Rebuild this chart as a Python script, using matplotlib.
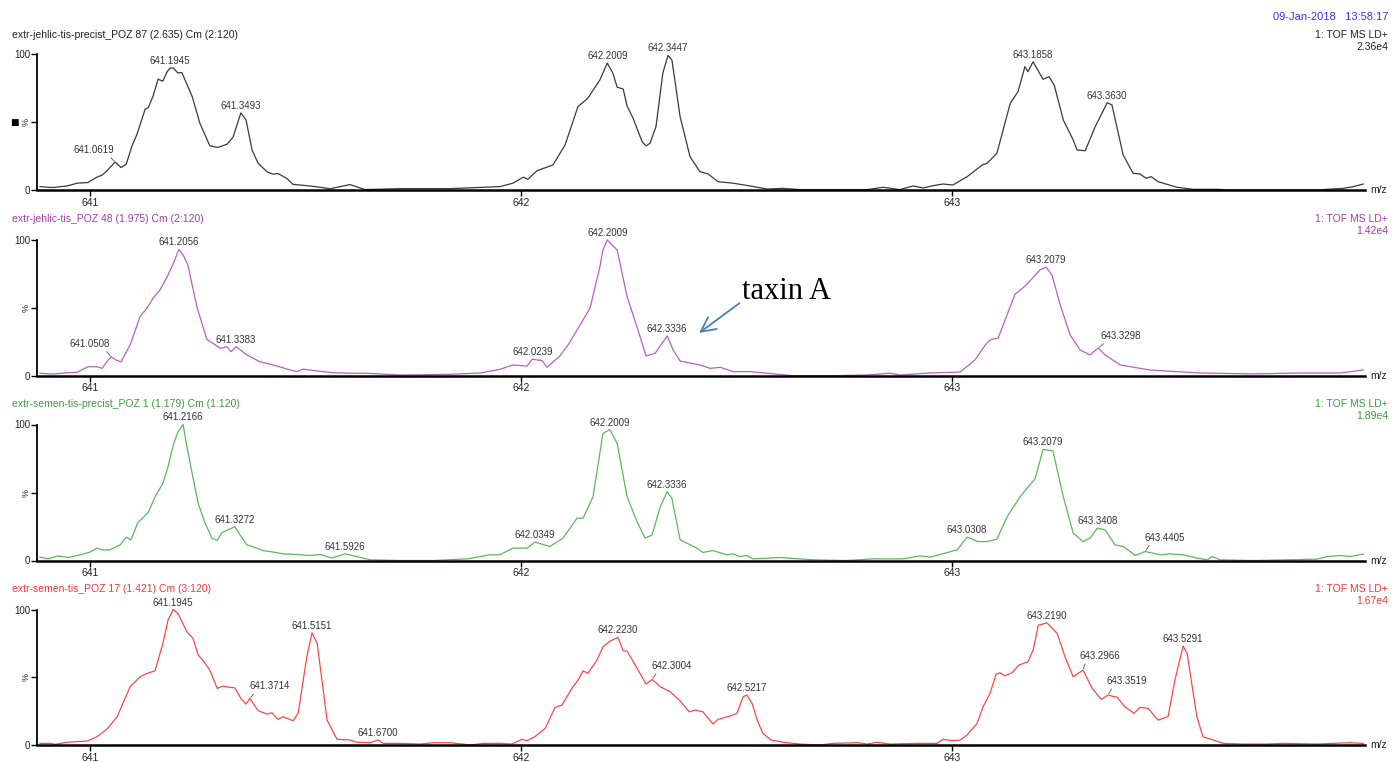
import numpy as np
import matplotlib
matplotlib.use("Agg")
import matplotlib.pyplot as plt

plt.rcParams['font.family'] = ['Liberation Sans', 'DejaVu Sans']

# ---------------- data (m/z, relative intensity %) ----------------
mz_1 = [640.884, 640.914, 640.947, 640.970, 640.995, 641.016, 641.028, 641.039, 641.058, 641.072,
        641.084, 641.097, 641.109, 641.128, 641.135, 641.146, 641.158, 641.169, 641.179, 641.186,
        641.193, 641.204, 641.213, 641.237, 641.255, 641.278, 641.297, 641.318, 641.332, 641.350,
        641.362, 641.376, 641.390, 641.411, 641.425, 641.436, 641.457, 641.471, 641.503, 641.534,
        641.557, 641.603, 641.638, 641.719, 641.835, 641.951, 641.981, 642.005, 642.016, 642.037,
        642.074, 642.102, 642.132, 642.155, 642.183, 642.200, 642.213, 642.223, 642.237, 642.246,
        642.260, 642.281, 642.290, 642.299, 642.313, 642.329, 642.341, 642.350, 642.369, 642.392,
        642.415, 642.434, 642.457, 642.492, 642.531, 642.571, 642.608, 642.647, 642.724, 642.803,
        642.840, 642.879, 642.910, 642.933, 642.956, 642.979, 643.002, 643.035, 643.070, 643.081,
        643.104, 643.135, 643.153, 643.169, 643.176, 643.188, 643.211, 643.225, 643.237, 643.258,
        643.281, 643.290, 643.309, 643.332, 643.360, 643.371, 643.397, 643.420, 643.436, 643.450,
        643.462, 643.478, 643.522, 643.559, 643.615, 643.652, 643.768, 643.847, 643.907, 643.930,
        643.954]
int_1 = [2.5, 1.8, 3.0, 5.0, 5.5, 9.4, 11.0, 14.0, 20.6, 16.5,
         19.0, 32.0, 41.0, 59.5, 60.5, 68.8, 81.5, 80.0, 87.0, 89.7,
         89.7, 86.0, 86.4, 68.8, 49.0, 32.5, 31.3, 33.7, 39.0, 56.7,
         51.4, 29.4, 19.6, 13.3, 11.6, 12.1, 8.4, 4.1, 3.2, 2.0,
         0.9, 4.0, 0.3, 1.0, 1.0, 2.5, 5.0, 9.4, 7.9, 14.2,
         18.4, 33.0, 61.3, 67.5, 81.0, 93.3, 86.0, 75.6, 74.2, 61.8,
         52.7, 35.5, 32.4, 34.3, 46.5, 86.0, 99.0, 95.6, 54.0, 24.5,
         13.5, 11.8, 6.1, 5.0, 3.0, 0.7, 1.2, 0.3, 0.3, 0.3,
         2.0, 0.3, 3.0, 1.5, 3.2, 4.4, 3.7, 9.8, 18.4, 19.6,
         27.0, 63.8, 72.3, 90.7, 87.0, 94.3, 81.4, 83.3, 77.2, 51.5,
         36.8, 29.4, 28.9, 46.5, 64.2, 62.5, 25.7, 12.3, 11.8, 8.6,
         9.8, 6.1, 2.0, 0.5, 0.5, 0.0, 0.0, 0.0, 1.2, 2.4,
         4.4]

mz_2 = [640.884, 640.914, 640.947, 640.970, 640.995, 641.016, 641.028, 641.039, 641.049, 641.060,
        641.072, 641.093, 641.116, 641.132, 641.146, 641.162, 641.181, 641.195, 641.206, 641.216,
        641.227, 641.248, 641.271, 641.285, 641.302, 641.318, 641.327, 641.339, 641.364, 641.394,
        641.425, 641.457, 641.480, 641.494, 641.527, 641.564, 641.603, 641.643, 641.719, 641.835,
        641.905, 641.951, 641.981, 642.014, 642.026, 642.049, 642.060, 642.090, 642.109, 642.160,
        642.183, 642.190, 642.200, 642.223, 642.246, 642.269, 642.290, 642.311, 642.339, 642.353,
        642.369, 642.415, 642.439, 642.462, 642.492, 642.531, 642.571, 642.631, 642.724, 642.803,
        642.856, 642.879, 642.949, 643.019, 643.053, 643.077, 643.088, 643.107, 643.123, 643.146,
        643.169, 643.181, 643.204, 643.218, 643.232, 643.251, 643.274, 643.297, 643.320, 643.339,
        643.355, 643.390, 643.459, 643.575, 643.698, 643.807, 643.900, 643.954]
int_2 = [1.8, 1.2, 2.2, 2.5, 6.6, 6.6, 5.4, 10.3, 14.0, 11.6,
         10.3, 22.6, 43.5, 49.7, 57.0, 63.0, 74.2, 84.0, 93.0, 89.0,
         81.6, 50.8, 26.8, 23.9, 20.2, 21.4, 17.7, 21.4, 15.3, 10.3,
         7.9, 4.9, 3.0, 4.9, 3.5, 2.2, 1.8, 1.8, 0.5, 1.0,
         2.0, 4.7, 7.9, 7.1, 12.1, 11.1, 6.2, 14.5, 22.6, 49.7,
         80.3, 92.6, 100.0, 92.6, 58.2, 36.1, 14.5, 16.5, 29.3, 18.9,
         10.8, 7.9, 5.4, 6.2, 3.0, 3.0, 1.8, 0.0, 0.0, 0.5,
         1.8, 0.5, 2.0, 2.7, 11.6, 22.6, 26.3, 27.8, 41.0, 60.0,
         66.0, 70.0, 78.0, 80.0, 74.0, 52.0, 30.0, 19.0, 15.3, 20.4,
         15.3, 7.9, 4.2, 2.0, 1.3, 2.0, 2.0, 4.2]

mz_3 = [640.884, 640.903, 640.926, 640.949, 640.977, 641.000, 641.016, 641.028, 641.046, 641.070,
        641.084, 641.095, 641.111, 641.135, 641.151, 641.169, 641.181, 641.193, 641.204, 641.216,
        641.222, 641.237, 641.251, 641.267, 641.283, 641.295, 641.306, 641.320, 641.336, 641.348,
        641.364, 641.387, 641.401, 641.418, 641.448, 641.480, 641.510, 641.534, 641.561, 641.592,
        641.619, 641.650, 641.719, 641.796, 641.875, 641.928, 641.951, 641.981, 642.014, 642.032,
        642.067, 642.097, 642.130, 642.144, 642.167, 642.190, 642.206, 642.223, 642.246, 642.269,
        642.288, 642.304, 642.323, 642.339, 642.350, 642.369, 642.408, 642.422, 642.445, 642.478,
        642.492, 642.508, 642.524, 642.538, 642.601, 642.677, 642.756, 642.817, 642.886, 642.926,
        642.949, 643.012, 643.035, 643.060, 643.081, 643.104, 643.128, 643.158, 643.193, 643.211,
        643.234, 643.258, 643.281, 643.304, 643.320, 643.337, 643.355, 643.378, 643.397, 643.425,
        643.448, 643.483, 643.506, 643.536, 643.568, 643.592, 643.603, 643.622, 643.698, 643.777,
        643.847, 643.870, 643.900, 643.923, 643.954]
int_3 = [2.5, 1.2, 3.4, 2.2, 4.2, 6.2, 9.1, 7.8, 7.8, 11.5,
         17.2, 15.2, 27.9, 35.2, 46.9, 56.7, 68.9, 84.8, 94.6, 100.0,
         88.5, 64.0, 42.0, 27.4, 16.4, 14.7, 20.5, 22.5, 24.9, 18.8,
         11.5, 9.1, 7.3, 6.6, 4.9, 4.4, 3.7, 4.4, 1.8, 4.9,
         2.9, 0.5, 0.0, 0.0, 1.2, 4.2, 4.2, 9.1, 9.1, 13.5,
         10.3, 16.4, 31.1, 31.1, 46.9, 93.4, 96.3, 86.1, 46.9, 28.6,
         16.4, 18.8, 39.6, 50.6, 45.7, 15.2, 9.1, 5.9, 7.3, 4.2,
         4.9, 2.9, 3.7, 1.2, 2.2, 0.5, 0.0, 1.2, 1.2, 3.4,
         2.5, 7.8, 17.2, 13.9, 13.9, 15.7, 32.3, 46.9, 60.4, 81.7,
         80.6, 46.9, 20.1, 13.9, 16.4, 23.8, 22.5, 11.5, 10.3, 3.7,
         6.6, 4.2, 4.9, 4.2, 1.8, 0.5, 2.9, 0.5, 0.0, 0.5,
         1.0, 2.9, 3.7, 2.9, 4.7]

mz_4 = [640.884, 640.907, 640.919, 640.947, 640.970, 640.993, 641.016, 641.039, 641.063, 641.093,
        641.116, 641.132, 641.151, 641.169, 641.181, 641.193, 641.204, 641.225, 641.239, 641.251,
        641.262, 641.278, 641.295, 641.309, 641.325, 641.336, 641.350, 641.362, 641.371, 641.390,
        641.411, 641.422, 641.436, 641.448, 641.471, 641.483, 641.503, 641.515, 641.527, 641.550,
        641.573, 641.603, 641.619, 641.650, 641.668, 641.680, 641.719, 641.766, 641.796, 641.835,
        641.882, 641.912, 641.951, 641.979, 642.002, 642.014, 642.032, 642.056, 642.079, 642.095,
        642.118, 642.132, 642.144, 642.155, 642.176, 642.190, 642.206, 642.225, 642.237, 642.246,
        642.265, 642.290, 642.304, 642.323, 642.346, 642.369, 642.390, 642.404, 642.422, 642.445,
        642.457, 642.485, 642.501, 642.515, 642.524, 642.536, 642.548, 642.561, 642.580, 642.608,
        642.647, 642.694, 642.724, 642.782, 642.803, 642.826, 642.856, 642.919, 642.965, 642.979,
        643.002, 643.019, 643.035, 643.058, 643.072, 643.088, 643.102, 643.111, 643.123, 643.139,
        643.155, 643.176, 643.188, 643.200, 643.220, 643.244, 643.262, 643.281, 643.304, 643.325,
        643.346, 643.362, 643.383, 643.401, 643.422, 643.436, 643.455, 643.478, 643.501, 643.517,
        643.536, 643.545, 643.568, 643.582, 643.606, 643.629, 643.675, 643.731, 643.768, 643.847,
        643.923, 643.954]
int_4 = [1.2, 1.2, 0.5, 2.0, 2.5, 2.9, 6.1, 11.6, 20.9, 43.0,
         50.3, 52.8, 54.8, 75.0, 92.1, 100.0, 97.0, 83.5, 78.6, 66.3,
         62.6, 55.3, 41.8, 43.5, 42.5, 42.2, 34.4, 30.2, 34.4, 25.3,
         22.8, 23.8, 18.9, 20.9, 17.9, 23.4, 65.1, 82.8, 75.0, 18.4,
         4.2, 3.7, 2.0, 1.7, 3.7, 1.2, 1.2, 0.7, 1.7, 1.7,
         0.0, 1.2, 1.2, 0.7, 4.2, 3.2, 6.1, 12.3, 27.8, 29.5,
         41.8, 47.9, 54.8, 52.8, 62.6, 72.4, 76.6, 79.4, 69.5, 69.3,
         59.0, 45.0, 48.4, 43.0, 39.3, 32.6, 24.5, 25.8, 24.5, 15.5,
         18.9, 21.4, 23.4, 35.6, 36.8, 30.7, 18.4, 8.6, 3.7, 2.0,
         0.7, 0.0, 1.2, 1.7, 0.7, 2.0, 0.7, 1.2, 1.2, 4.2,
         3.2, 3.7, 7.4, 16.0, 28.2, 38.1, 52.1, 53.3, 51.1, 53.3,
         59.0, 61.4, 70.0, 88.4, 90.1, 82.3, 65.1, 50.3, 55.3, 41.8,
         33.7, 36.8, 35.2, 28.2, 23.4, 27.8, 27.0, 18.4, 20.9, 47.9,
         73.0, 68.0, 20.9, 6.1, 3.7, 1.2, 0.7, 0.7, 1.2, 0.7,
         1.7, 1.2]

peaks_1 = ['641.0619', '641.1945', '641.3493', '642.2009', '642.3447', '643.1858', '643.3630']
peaks_2 = ['641.0508', '641.2056', '641.3383', '642.0239', '642.2009', '642.3336', '643.2079', '643.3298']
peaks_3 = ['641.2166', '641.3272', '641.5926', '642.0349', '642.2009', '642.3336', '643.0308',
           '643.2079', '643.3408', '643.4405']
peaks_4 = ['641.1945', '641.3714', '641.5151', '641.6700', '642.2230', '642.3004', '642.5217',
           '643.2190', '643.2966', '643.3519', '643.5291']

titles = ['extr-jehlic-tis-precist_POZ 87 (2.635) Cm (2:120)',
          'extr-jehlic-tis_POZ 48 (1.975) Cm (2:120)',
          'extr-semen-tis-precist_POZ 1 (1.179) Cm (1:120)',
          'extr-semen-tis_POZ 17 (1.421) Cm (3:120)']
scales = ['2.36e4', '1.42e4', '1.89e4', '1.67e4']

# ---------------- style / layout ----------------
W, H = 1392, 762
line_colors = ['#3a3a3a', '#b860c0', '#5cb85c', '#ff4646']
text_colors = ['#222222', '#a040a8', '#3c9c3c', '#ff3333']
panel_px = [(54, 190), (240, 375.7), (424.5, 560.5), (609.5, 745)]
title_y = [35, 219, 404, 589]
# labels sitting beside the peak with a small leader line (offset in pixels)
leaders = {(0, '641.0619'): (-21, 7), (1, '641.0508'): (-21, 8), (1, '643.3298'): (23, 7),
           (2, '643.4405'): (20, 9), (3, '641.3714'): (20, 7), (3, '642.3004'): (20, 8),
           (3, '643.2966'): (17, 9), (3, '643.3519'): (19, 9)}

fig = plt.figure(figsize=(W / 100, H / 100), dpi=100)
fig.patch.set_facecolor('white')

data = [(mz_1, int_1, peaks_1), (mz_2, int_2, peaks_2), (mz_3, int_3, peaks_3), (mz_4, int_4, peaks_4)]
axes = []
for i, (mz, inten, peaks) in enumerate(data):
    top, bot = panel_px[i]
    x0, x1 = 37, 1365
    ax = fig.add_axes([x0 / W, 1 - bot / H, (x1 - x0) / W, (bot - top) / H])
    axes.append(ax)
    mz = np.array(mz)
    inten = np.array(inten)
    ax.plot(mz, inten, color=line_colors[i], lw=0.9, clip_on=False)
    ax.set_xlim(640.877, 643.958)
    ax.set_ylim(0, 100)
    for s in ['top', 'right']:
        ax.spines[s].set_visible(False)
    ax.spines['left'].set_linewidth(1.3)
    ax.spines['bottom'].set_linewidth(1.8)
    ax.set_yticks([0, 50, 100])
    ax.set_yticklabels(['0', '', '100'])
    ax.set_xticks([641, 642, 643])
    ax.set_xticklabels(['641', '642', '643'])
    ax.tick_params(axis='y', length=4, width=1, pad=1, labelsize=7, labelcolor='#222222')
    ax.tick_params(axis='x', length=4, width=1, pad=1.5, labelsize=7.5, labelcolor='#222222')
    ax.patch.set_alpha(0)

    ax.annotate('m/z', xy=(1, 0), xycoords='axes fraction', xytext=(5, 0), textcoords='offset pixels',
                ha='left', va='center', fontsize=7.5, color='#222222')
    ax.annotate('%', xy=(0, 0.5), xycoords='axes fraction', xytext=(-11, 0), textcoords='offset pixels',
                ha='center', va='center', rotation=90, fontsize=6.5, color='#222222')

    # peak labels
    for p in peaks:
        pm = float(p)
        win = np.abs(mz - pm) <= 0.012
        j = np.where(win)[0][np.argmax(inten[win])]
        xy = (mz[j], inten[j])
        if (i, p) in leaders:
            dx, dy = leaders[(i, p)]
            rel = (0.85, 0.0) if dx < 0 else (0.15, 0.0)
            ax.annotate(p, xy=xy, xytext=(dx, dy), textcoords='offset pixels', ha='center', va='bottom',
                        fontsize=7, color='#333333', annotation_clip=False,
                        arrowprops=dict(arrowstyle='-', lw=0.6, color='#555555', shrinkA=0, shrinkB=1,
                                        relpos=rel))
        else:
            ax.annotate(p, xy=xy, xytext=(0, 2), textcoords='offset pixels', ha='center', va='bottom',
                        fontsize=7, color='#333333', annotation_clip=False)

    fig.text(12 / W, 1 - title_y[i] / H, titles[i], ha='left', va='center', fontsize=7.5,
             color=text_colors[i])
    fig.text(1388 / W, 1 - title_y[i] / H, '1: TOF MS LD+', ha='right', va='center', fontsize=7.5,
             color=text_colors[i])
    fig.text(1388 / W, 1 - (title_y[i] + 12) / H, scales[i], ha='right', va='center', fontsize=7.5,
             color=text_colors[i])

fig.text(1388 / W, 1 - 17 / H, '09-Jan-2018   13:58:17', ha='right', va='center', fontsize=8,
         color='#3333ff')
fig.text(14 / W, 1 - 122 / H, '\u25a0', ha='center', va='center', fontsize=6.5,
         family=['DejaVu Sans'], color='black')

axes[1].annotate('taxin A', xy=(642.413, 31.5), xytext=(642.513, 62.4),
                 ha='left', va='center', fontsize=22, family='Liberation Serif', color='black',
                 annotation_clip=False,
                 arrowprops=dict(arrowstyle='->,head_length=0.7,head_width=0.35', mutation_scale=15,
                                 color='#4a7ebb', lw=1.3, shrinkA=0, shrinkB=0, relpos=(0.0, 0.15)))

fig.savefig('out.png', dpi=100)
